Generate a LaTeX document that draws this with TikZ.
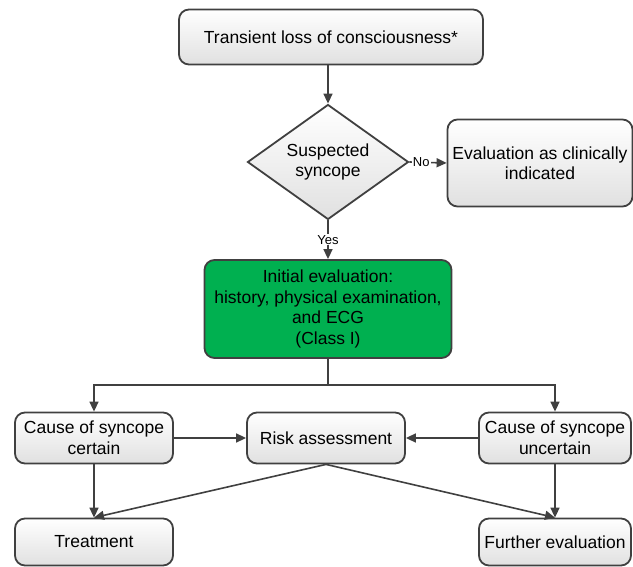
\documentclass[tikz,border=0pt]{standalone}
\usepackage{fontspec}
\setmainfont{Liberation Sans}
\usetikzlibrary{shapes.geometric,arrows.meta}
\definecolor{edgegray}{HTML}{404040}
\definecolor{initgreen}{HTML}{00B050}
\begin{document}
\begin{tikzpicture}[x=1pt, y=-1pt,
  box/.style={draw=edgegray, line width=1.8pt, rounded corners=10pt, top color=white, bottom color=black!12,
    align=center, inner sep=2pt, font=\fontsize{17.5}{20.5}\selectfont},
  decision/.style={diamond, draw=edgegray, line width=1.8pt, top color=white, bottom color=black!12,
    align=center, inner sep=0pt, aspect=1.4, font=\fontsize{17.5}{20.5}\selectfont},
  arrow/.style={draw=edgegray, line width=1.6pt, -{Triangle[length=10pt,width=9pt]}},
  tag/.style={fill=white, inner sep=1pt, font=\fontsize{13}{15}\selectfont}]
  \useasboundingbox (0,0) rectangle (633,567);
  \node[box, minimum width=304pt, minimum height=55pt] (tloc) at (331,37) {Transient loss of consciousness*};
  \node[decision, minimum width=161pt, minimum height=115pt] (suspect) at (328,162) {Suspected\\syncope};
  \node[box, minimum width=185pt, minimum height=87pt, inner sep=1pt] (clinical) at (540,163) {Evaluation as clinically\\indicated};
  \node[box, fill=initgreen, top color=initgreen, bottom color=initgreen, minimum width=247pt, minimum height=98pt] (initial) at (328,309)
    {Initial evaluation:\\history, physical examination,\\and ECG\\(Class I)};
  \node[box, minimum width=158pt, minimum height=51pt] (certain) at (94,438) {Cause of syncope\\certain};
  \node[box, minimum width=158pt, minimum height=51pt] (risk) at (326,438) {Risk assessment};
  \node[box, minimum width=152pt, minimum height=51pt] (uncertain) at (555,438) {Cause of syncope\\uncertain};
  \node[box, minimum width=158pt, minimum height=47pt] (treat) at (94,542) {Treatment};
  \node[box, minimum width=152pt, minimum height=47pt] (further) at (555,542) {Further evaluation};

  \draw[arrow] (tloc.south -| suspect.north) -- (suspect.north);
  \draw[arrow] (suspect.east) -- (clinical.west) node[tag, pos=0.32] {No};
  \draw[arrow] (suspect.south) -- (initial.north) node[tag, midway] {Yes};
  \draw[arrow] (initial.south) -- ++(0,26) -| (certain.north);
  \draw[arrow] (initial.south) -- ++(0,26) -| (uncertain.north);
  \draw[arrow] (certain.east) -- (risk.west);
  \draw[arrow] (uncertain.west) -- (risk.east);
  \draw[arrow] (certain.south) -- (treat.north);
  \draw[arrow] (uncertain.south) -- (further.north);
  \draw[arrow] (risk.south) -- (treat.north);
  \draw[arrow] (risk.south) -- (further.north);
\end{tikzpicture}
\end{document}
